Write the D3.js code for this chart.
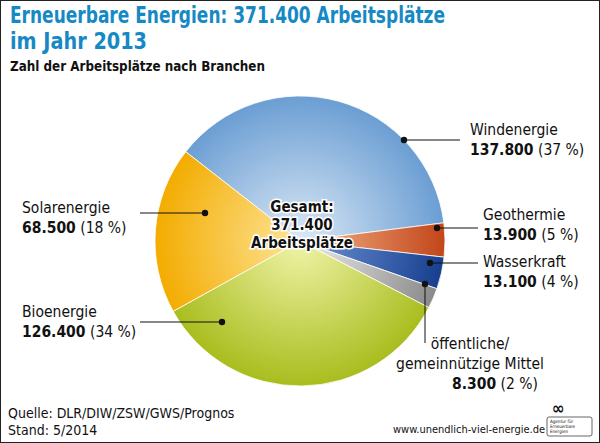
<!DOCTYPE html><html><head><meta charset="utf-8">
<script src="https://cdn.jsdelivr.net/npm/d3@7"></script>
<style>body{margin:0}svg{font-family:"DejaVu Sans Condensed","DejaVu Sans",sans-serif;font-stretch:condensed}</style></head><body>
<svg id="c" width="600" height="443"></svg>
<script>
const categories=["Windenergie","Geothermie","Wasserkraft","öffentliche/gemeinnützige Mittel","Bioenergie","Solarenergie"];
const values=[137800,13900,13100,8300,126400,68500];
const percents=[37,5,4,2,34,18];
const total=371400;
const colors=[["#dce9f6","#6b9ed3"],["#f6b48a","#c2461a"],["#7096d6","#173f8f"],["#eeeeee","#8a8a8a"],["#f0f4a8","#a9bd1e"],["#fee59a","#f3ac00"]];
const svg=d3.select("#c");
svg.append("rect").attr("x",0.5).attr("y",0.5).attr("width",599).attr("height",442).attr("fill","#fff").attr("stroke","#222");
const cx=300,cy=241,r=145;
const defs=svg.append("defs");
colors.forEach((c,i)=>{const g=defs.append("radialGradient").attr("id","g"+i).attr("gradientUnits","userSpaceOnUse").attr("cx",0).attr("cy",0).attr("r",r).attr("fx",0).attr("fy",0);
g.append("stop").attr("offset","0%").attr("stop-color",c[0]);g.append("stop").attr("offset","100%").attr("stop-color",c[1]);});
const off=-52*Math.PI/180;
const pie=d3.pie().sort(null).startAngle(off).endAngle(off+2*Math.PI);
const arcs=pie(values);
const arc=d3.arc().innerRadius(0).outerRadius(r);
const gp=svg.append("g").attr("transform",`translate(${cx},${cy})`);
gp.selectAll("path").data(arcs).join("path").attr("d",arc).attr("fill",(d,i)=>`url(#g${i})`).attr("stroke","#fff").attr("stroke-width",0.8);
const fmt=v=>d3.format(",")(v).replace(/,/g,".");
const lab=[
 {pts:[[404,140],[460,140]],tx:470,ty:135,lines:[categories[0]]},
 {pts:[[437,228],[478,228]],tx:483,ty:220,lines:[categories[1]]},
 {pts:[[430,263],[478,263]],tx:483,ty:267,lines:[categories[2]]},
 {pts:[[425,284],[425,343]],tx:470,ty:349,anchor:"middle",lines:["öffentliche/","gemeinnützige Mittel"]},
 {pts:[[222,322],[140,322]],tx:22,ty:317,lines:[categories[4]]},
 {pts:[[205,213],[140,213]],tx:22,ty:213,lines:[categories[5]]}
];
lab.forEach((l,i)=>{
 svg.append("polyline").attr("points",l.pts.map(p=>p.join(",")).join(" ")).attr("fill","none").attr("stroke","#111").attr("stroke-width",1);
 svg.append("circle").attr("cx",l.pts[0][0]).attr("cy",l.pts[0][1]).attr("r",3.2).attr("fill","#111");
 const t=svg.append("text").attr("x",l.tx).attr("y",l.ty).attr("font-size",15.5).attr("fill","#111").attr("text-anchor",l.anchor||"start");
 l.lines.forEach((s,k)=>t.append("tspan").attr("x",l.tx).attr("dy",k?19.5:0).text(s));
 const t2=t.append("tspan").attr("x",l.anchor==="middle"?l.tx+25:l.tx).attr("dy",20);
 t2.append("tspan").attr("font-weight","bold").text(fmt(values[i]));
 t2.append("tspan").text(` (${percents[i]} %)`);
});
const ct=svg.append("text").attr("text-anchor","middle").attr("font-weight","bold").attr("font-size",15).attr("fill","#111")
 .attr("stroke","#fff").attr("stroke-width",3).attr("paint-order","stroke");
[["Gesamt:",212],[fmt(total),230],["Arbeitsplätze",248]].forEach(([s,y])=>ct.append("tspan").attr("x",302).attr("y",y).text(s));
svg.append("text").attr("x",10).attr("y",23).attr("font-weight","bold").attr("font-size",22.5).attr("fill","#1689c5").attr("textLength",435).attr("lengthAdjust","spacingAndGlyphs").text("Erneuerbare Energien: 371.400 Arbeitsplätze");
svg.append("text").attr("x",10).attr("y",49).attr("font-weight","bold").attr("font-size",22.5).attr("fill","#1689c5").attr("textLength",137).attr("lengthAdjust","spacingAndGlyphs").text("im Jahr 2013");
svg.append("text").attr("x",10).attr("y",71).attr("font-weight","bold").attr("font-size",14).attr("fill","#111").attr("textLength",255).attr("lengthAdjust","spacingAndGlyphs").text("Zahl der Arbeitsplätze nach Branchen");
svg.append("text").attr("x",8).attr("y",418).attr("font-size",14).attr("fill","#111").text("Quelle: DLR/DIW/ZSW/GWS/Prognos");
svg.append("text").attr("x",8).attr("y",435).attr("font-size",14).attr("fill","#111").text("Stand: 5/2014");
svg.append("text").attr("x",393).attr("y",433).attr("font-size",11).attr("fill","#111").text("www.unendlich-viel-energie.de");
svg.append("text").attr("x",552).attr("y",414).attr("font-size",17).attr("font-weight","bold").attr("fill","#111").text("∞");
svg.append("rect").attr("x",547).attr("y",417).attr("width",45).attr("height",19).attr("fill","none").attr("stroke","#666").attr("rx",2);
["Agentur für","Erneuerbare","Energien"].forEach((s,k)=>svg.append("text").attr("x",550).attr("y",423+k*5).attr("font-size",4.5).attr("fill","#111").text(s));
</script></body></html>
